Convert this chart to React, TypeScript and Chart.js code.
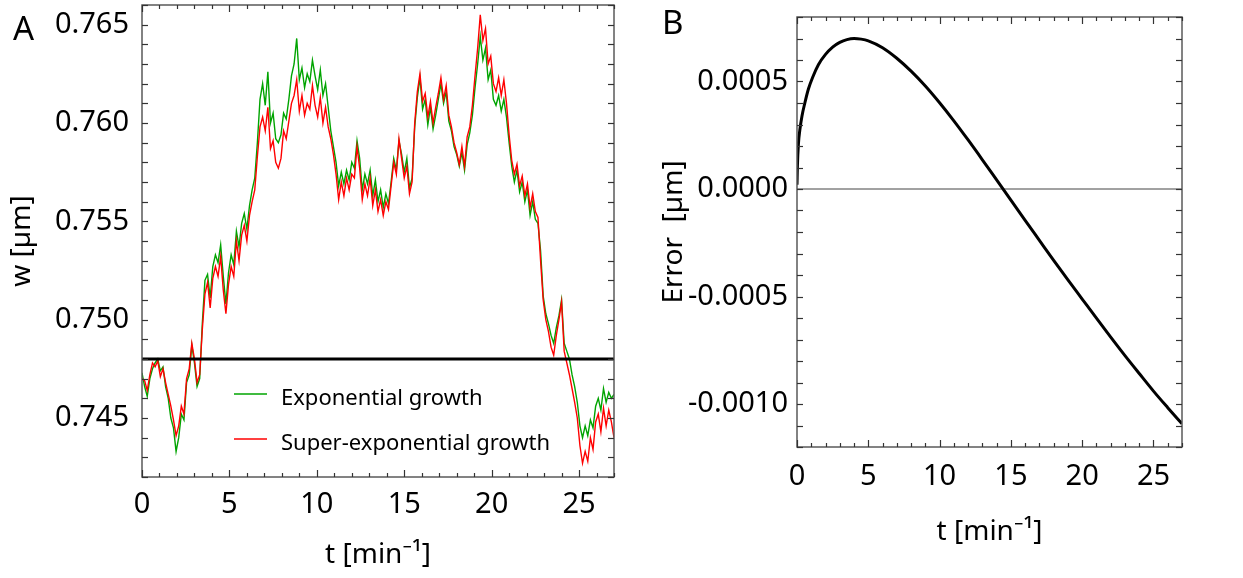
import React, { useEffect, useRef } from "react";
import { Chart, registerables } from "chart.js";

Chart.register(...registerables);

const FONT = "'Noto Sans', 'DejaVu Sans', sans-serif";

// ---------- Panel A data ----------
const TIME_A = [
  0, 0.15, 0.3, 0.45, 0.6, 0.75, 0.9, 1.05, 1.2, 1.35, 1.5, 1.65, 1.8, 1.95, 2.1, 2.25, 2.4, 2.55, 2.7, 2.85,
  3, 3.15, 3.3, 3.45, 3.6, 3.75, 3.9, 4.05, 4.2, 4.35, 4.5, 4.65, 4.8, 4.95, 5.1, 5.25, 5.4, 5.55, 5.7, 5.85,
  6, 6.15, 6.3, 6.45, 6.6, 6.75, 6.9, 7.05, 7.2, 7.35, 7.5, 7.65, 7.8, 7.95, 8.1, 8.25, 8.4, 8.55, 8.7, 8.85,
  9, 9.15, 9.3, 9.45, 9.6, 9.75, 9.9, 10.05, 10.2, 10.35, 10.5, 10.65, 10.8, 10.95, 11.1, 11.25, 11.4, 11.55, 11.7, 11.85,
  12, 12.15, 12.3, 12.45, 12.6, 12.75, 12.9, 13.05, 13.2, 13.35, 13.5, 13.65, 13.8, 13.95, 14.1, 14.25, 14.4, 14.55, 14.7, 14.85,
  15, 15.15, 15.3, 15.45, 15.6, 15.75, 15.9, 16.05, 16.2, 16.35, 16.5, 16.65, 16.8, 16.95, 17.1, 17.25, 17.4, 17.55, 17.7, 17.85,
  18, 18.15, 18.3, 18.45, 18.6, 18.75, 18.9, 19.05, 19.2, 19.35, 19.5, 19.65, 19.8, 19.95, 20.1, 20.25, 20.4, 20.55, 20.7, 20.85,
  21, 21.15, 21.3, 21.45, 21.6, 21.75, 21.9, 22.05, 22.2, 22.35, 22.5, 22.65, 22.8, 22.95, 23.1, 23.25, 23.4, 23.55, 23.7, 23.85,
  24, 24.15, 24.3, 24.45, 24.6, 24.75, 24.9, 25.05, 25.2, 25.35, 25.5, 25.65, 25.8, 25.95, 26.1, 26.25, 26.4, 26.55, 26.7, 26.85,
  27,
];

const EXPONENTIAL = [
  0.7473, 0.7466, 0.7461, 0.7470, 0.7475, 0.7478, 0.7480, 0.7474, 0.7476, 0.7466, 0.7460, 0.7450, 0.7445, 0.7433, 0.7440, 0.7452, 0.7449, 0.7468, 0.7472, 0.7487,
  0.7478, 0.7466, 0.7470, 0.7498, 0.7520, 0.7523, 0.7511, 0.7527, 0.7533, 0.7529, 0.7538, 0.7522, 0.7508, 0.7524, 0.7533, 0.7528, 0.7545, 0.7537, 0.7549, 0.7554,
  0.7546, 0.7558, 0.7566, 0.7572, 0.7590, 0.7612, 0.7620, 0.7609, 0.7626, 0.7600, 0.7605, 0.7592, 0.7590, 0.7594, 0.7605, 0.7602, 0.7612, 0.7624, 0.7630, 0.7643,
  0.7622, 0.7628, 0.7618, 0.7625, 0.7621, 0.7632, 0.7624, 0.7617, 0.7627, 0.7614, 0.7620, 0.7608, 0.7596, 0.7588, 0.7580, 0.7568, 0.7575, 0.7569, 0.7576, 0.7571,
  0.7580, 0.7577, 0.7591, 0.7582, 0.7566, 0.7574, 0.7569, 0.7576, 0.7563, 0.7571, 0.7560, 0.7566, 0.7557, 0.7564, 0.7559, 0.7570, 0.7582, 0.7576, 0.7591, 0.7584,
  0.7575, 0.7582, 0.7567, 0.7572, 0.7598, 0.7613, 0.7623, 0.7607, 0.7612, 0.7599, 0.7608, 0.7597, 0.7604, 0.7612, 0.7620, 0.7610, 0.7616, 0.7601, 0.7596, 0.7588,
  0.7584, 0.7578, 0.7585, 0.7576, 0.7589, 0.7595, 0.7604, 0.7618, 0.7630, 0.7644, 0.7632, 0.7638, 0.7622, 0.7627, 0.7612, 0.7609, 0.7614, 0.7606, 0.7612, 0.7603,
  0.7590, 0.7578, 0.7570, 0.7576, 0.7565, 0.7570, 0.7560, 0.7566, 0.7553, 0.7560, 0.7551, 0.7549, 0.7535, 0.7512, 0.7503, 0.7498, 0.7492, 0.7488, 0.7496, 0.7502,
  0.7510, 0.7488, 0.7484, 0.7480, 0.7472, 0.7466, 0.7458, 0.7446, 0.7440, 0.7446, 0.7441, 0.7449, 0.7445, 0.7456, 0.7460, 0.7454, 0.7465, 0.7458, 0.7463, 0.7460,
  0.7462,
];

const SUPER_EXPONENTIAL = [
  0.7470, 0.7469, 0.7464, 0.7472, 0.7478, 0.7476, 0.7479, 0.7471, 0.7475, 0.7468, 0.7462, 0.7456, 0.7449, 0.7441, 0.7446, 0.7456, 0.7452, 0.7470, 0.7475, 0.7488,
  0.7480, 0.7468, 0.7472, 0.7495, 0.7513, 0.7519, 0.7506, 0.7521, 0.7527, 0.7522, 0.7532, 0.7515, 0.7503, 0.7518, 0.7527, 0.7522, 0.7540, 0.7530, 0.7543, 0.7548,
  0.7540, 0.7553, 0.7560, 0.7566, 0.7583, 0.7598, 0.7603, 0.7596, 0.7608, 0.7587, 0.7591, 0.7580, 0.7577, 0.7582, 0.7596, 0.7592, 0.7601, 0.7610, 0.7614, 0.7622,
  0.7606, 0.7614, 0.7604, 0.7610, 0.7607, 0.7619, 0.7609, 0.7603, 0.7613, 0.7600, 0.7608, 0.7598, 0.7592, 0.7584, 0.7574, 0.7561, 0.7570, 0.7563, 0.7572, 0.7566,
  0.7574, 0.7572, 0.7588, 0.7577, 0.7561, 0.7569, 0.7563, 0.7572, 0.7558, 0.7566, 0.7555, 0.7561, 0.7553, 0.7560, 0.7556, 0.7568, 0.7580, 0.7574, 0.7592, 0.7582,
  0.7572, 0.7578, 0.7564, 0.7570, 0.7600, 0.7616, 0.7625, 0.7611, 0.7615, 0.7603, 0.7611, 0.7600, 0.7608, 0.7615, 0.7623, 0.7612, 0.7619, 0.7604, 0.7598, 0.7590,
  0.7585, 0.7579, 0.7588, 0.7578, 0.7593, 0.7598, 0.7609, 0.7624, 0.7638, 0.7655, 0.7642, 0.7648, 0.7630, 0.7634, 0.7620, 0.7616, 0.7623, 0.7614, 0.7622, 0.7610,
  0.7594, 0.7581, 0.7574, 0.7579, 0.7568, 0.7573, 0.7563, 0.7569, 0.7557, 0.7564, 0.7555, 0.7552, 0.7530, 0.7510, 0.7500, 0.7494, 0.7486, 0.7482, 0.7492, 0.7500,
  0.7509, 0.7484, 0.7478, 0.7472, 0.7465, 0.7458, 0.7450, 0.7436, 0.7427, 0.7433, 0.7428, 0.7440, 0.7434, 0.7448, 0.7452, 0.7443, 0.7455, 0.7446, 0.7454, 0.7448,
  0.7440,
];

const REFERENCE_LEVEL = 0.748;
const SERIES_NAMES = ["Exponential growth", "Super-exponential growth"];

const X_TICKS = [0, 5, 10, 15, 20, 25];
const Y_TICKS_A = [0.745, 0.75, 0.755, 0.76, 0.765];

// ---------- Panel B data ----------
const ERR_T = [
  0, 0.03, 0.1, 0.2, 0.35, 0.55, 0.8, 1.1, 1.5, 2.0, 2.5, 3.0, 3.5, 4.0, 4.5, 5, 6, 7, 8, 9,
  10, 11, 12, 13, 14, 15, 16, 17, 18, 19, 20, 21, 22, 23, 24, 25, 26, 27,
];
const ERR_V = [
  0.00002, 0.00011, 0.00021, 0.000275, 0.00034, 0.0004, 0.000465, 0.00052, 0.000578, 0.000626, 0.00066, 0.000682, 0.000695, 0.0007, 0.000697, 0.000689, 0.000657, 0.000608, 0.000548, 0.000479,
  0.000401, 0.000317, 0.000228, 0.000136, 0.000042, -0.000052, -0.000146, -0.000239, -0.000332, -0.000423, -0.000512, -0.000601, -0.000689, -0.000775, -0.000858, -0.00094, -0.001017, -0.001092,
];
const Y_TICKS_B = [0.0005, 0, -0.0005, -0.001];

// ---------- plugins ----------
const framePlugin = {
  id: "frame",
  afterDraw(chart: any) {
    const o = chart.options.plugins.frame;
    if (!o) return;
    const { ctx, chartArea: a } = chart;
    const xs = chart.scales.x;
    const ys = chart.scales.y;
    ctx.save();
    ctx.strokeStyle = "#5a5a5a";
    ctx.lineWidth = 1.5;
    ctx.strokeRect(a.left, a.top, a.right - a.left, a.bottom - a.top);
    ctx.strokeStyle = "#333";
    ctx.lineWidth = 1.2;
    const line = (x1: number, y1: number, x2: number, y2: number) => {
      ctx.beginPath();
      ctx.moveTo(x1, y1);
      ctx.lineTo(x2, y2);
      ctx.stroke();
    };
    const nx = Math.round((o.xMax - o.xMin) / o.xMinor);
    for (let i = 0; i <= nx; i++) {
      const v = o.xMin + i * o.xMinor;
      const px = Math.round(xs.getPixelForValue(v)) + 0.5;
      const r = v / o.xMajor;
      const major = Math.abs(r - Math.round(r)) < 1e-6;
      const len = major ? 7 : 4;
      line(px, a.bottom, px, a.bottom - len);
      line(px, a.top, px, a.top + len);
    }
    const ny = Math.round((o.yMax - o.yMin) / o.yMinor);
    for (let i = 0; i <= ny; i++) {
      const v = o.yMin + i * o.yMinor;
      const py = Math.round(ys.getPixelForValue(v)) + 0.5;
      const len = 6;
      line(a.left, py, a.left + len, py);
      line(a.right, py, a.right - len, py);
    }
    if (o.letter) {
      ctx.fillStyle = "#000";
      ctx.font = `33px ${FONT}`;
      ctx.textBaseline = "alphabetic";
      ctx.textAlign = "left";
      ctx.fillText(o.letter.text, o.letter.x, o.letter.y);
    }
    if (o.legend) {
      const L = o.legend;
      ctx.font = `22px ${FONT}`;
      ctx.fillStyle = "#000";
      ctx.textAlign = "left";
      ctx.textBaseline = "alphabetic";
      L.items.forEach((it: any, i: number) => {
        const yLine = a.top + L.top + i * L.gap;
        ctx.strokeStyle = it.color;
        ctx.lineWidth = 1.3;
        line(a.left + L.lineX0, yLine, a.left + L.lineX1, yLine);
        ctx.fillText(it.text, a.left + L.textX, yLine + 11);
      });
    }
    ctx.restore();
  },
};

function fixFit(size: { w?: number; h?: number }) {
  return (s: any) => {
    if (size.w !== undefined) s.width = size.w;
    if (size.h !== undefined) s.height = size.h;
    s.paddingLeft = 0;
    s.paddingRight = 0;
    s.paddingTop = 0;
    s.paddingBottom = 0;
  };
}

const tickFont = { family: FONT, size: 29 };
const titleFont = { family: FONT, size: 28 };

export default function App() {
  const refA = useRef<HTMLCanvasElement | null>(null);
  const refB = useRef<HTMLCanvasElement | null>(null);

  useEffect(() => {
    const green = TIME_A.map((t, i) => ({ x: t, y: EXPONENTIAL[i] }));
    const red = TIME_A.map((t, i) => ({ x: t, y: SUPER_EXPONENTIAL[i] }));

    const chartA = new Chart(refA.current as HTMLCanvasElement, {
      type: "line",
      data: {
        datasets: [
          {
            label: "level",
            data: [
              { x: 0, y: REFERENCE_LEVEL },
              { x: 27, y: REFERENCE_LEVEL },
            ],
            borderColor: "#000",
            borderWidth: 3,
            pointRadius: 0,
            order: 0,
          },
          {
            label: SERIES_NAMES[1],
            data: red,
            borderColor: "#ff0000",
            borderWidth: 1.4,
            pointRadius: 0,
            tension: 0,
            order: 1,
          },
          {
            label: SERIES_NAMES[0],
            data: green,
            borderColor: "#00a400",
            borderWidth: 1.4,
            pointRadius: 0,
            tension: 0,
            order: 2,
          },
        ],
      },
      plugins: [framePlugin],
      options: {
        responsive: false,
        animation: false,
        devicePixelRatio: 1,
        layout: { padding: { left: 0, top: 5, right: 26, bottom: 0 } },
        plugins: {
          legend: { display: false },
          tooltip: { enabled: false },
          frame: {
            xMin: 0, xMax: 27, xMinor: 1, xMajor: 5,
            yMin: 0.742, yMax: 0.766, yMinor: 0.001,
            letter: { text: "A", x: 13, y: 40 },
            legend: {
              top: 389, gap: 45, lineX0: 92, lineX1: 125, textX: 139,
              items: [
                { text: SERIES_NAMES[0], color: "#00a400" },
                { text: SERIES_NAMES[1], color: "#ff0000" },
              ],
            },
          },
        } as any,
        scales: {
          x: {
            type: "linear",
            min: 0,
            max: 27,
            afterBuildTicks: (s: any) => {
              s.ticks = X_TICKS.map((v) => ({ value: v }));
            },
            afterFit: fixFit({ h: 101 }),
            grid: { display: false },
            border: { display: false },
            ticks: { font: tickFont, color: "#000", padding: 2, maxRotation: 0, autoSkip: false, callback: (v: any) => String(v) },
            title: { display: true, text: "t [min\u207B\u00B9]", font: titleFont, color: "#000", padding: { top: 0, bottom: 6 } },
          },
          y: {
            type: "linear",
            min: 0.742,
            max: 0.766,
            afterBuildTicks: (s: any) => {
              s.ticks = Y_TICKS_A.map((v) => ({ value: v }));
            },
            afterFit: fixFit({ w: 142 }),
            grid: { display: false },
            border: { display: false },
            ticks: { font: tickFont, color: "#000", padding: 5, autoSkip: false, callback: (v: any) => Number(v).toFixed(3) },
            title: { display: true, text: "w [\u00B5m]", font: titleFont, color: "#000", padding: { top: 5, bottom: 0 } },
          },
        },
      } as any,
    });

    const err = ERR_T.map((t, i) => ({ x: t, y: ERR_V[i] }));
    const chartB = new Chart(refB.current as HTMLCanvasElement, {
      type: "line",
      data: {
        datasets: [
          {
            label: "Error",
            data: err,
            borderColor: "#000",
            borderWidth: 3,
            pointRadius: 0,
            cubicInterpolationMode: "monotone",
            order: 0,
          },
          {
            label: "zero",
            data: [
              { x: 0, y: 0 },
              { x: 27, y: 0 },
            ],
            borderColor: "#444",
            borderWidth: 1,
            pointRadius: 0,
            order: 1,
          },
        ],
      },
      plugins: [framePlugin],
      options: {
        responsive: false,
        animation: false,
        devicePixelRatio: 1,
        layout: { padding: { left: 0, top: 17, right: 61, bottom: 0 } },
        plugins: {
          legend: { display: false },
          tooltip: { enabled: false },
          frame: {
            xMin: 0, xMax: 27, xMinor: 1, xMajor: 5,
            yMin: -0.0012, yMax: 0.0008, yMinor: 0.0001,
            letter: { text: "B", x: 22, y: 34 },
          },
        } as any,
        scales: {
          x: {
            type: "linear",
            min: 0,
            max: 27,
            afterBuildTicks: (s: any) => {
              s.ticks = X_TICKS.map((v) => ({ value: v }));
            },
            afterFit: fixFit({ h: 131 }),
            grid: { display: false },
            border: { display: false },
            ticks: { font: tickFont, color: "#000", padding: 4, maxRotation: 0, autoSkip: false, callback: (v: any) => String(v) },
            title: { display: true, text: "t [min\u207B\u00B9]", font: titleFont, color: "#000", padding: { top: 0, bottom: 29 } },
          },
          y: {
            type: "linear",
            min: -0.0012,
            max: 0.0008,
            afterBuildTicks: (s: any) => {
              s.ticks = Y_TICKS_B.map((v) => ({ value: v }));
            },
            afterFit: fixFit({ w: 157 }),
            grid: { display: false },
            border: { display: false },
            ticks: { font: tickFont, color: "#000", padding: 1, autoSkip: false, callback: (v: any) => Number(v).toFixed(4) },
            title: { display: true, text: "Error  [\u00B5m]", font: titleFont, color: "#000", padding: { top: 17, bottom: 0 } },
          },
        },
      } as any,
    });

    return () => {
      chartA.destroy();
      chartB.destroy();
    };
  }, []);

  return (
    <div style={{ position: "fixed", left: 0, top: 0, width: 1243, height: 578, background: "#fff" }}>
      <canvas ref={refA} width={640} height={578} style={{ position: "absolute", left: 0, top: 0, width: 640, height: 578 }} />
      <canvas ref={refB} width={603} height={578} style={{ position: "absolute", left: 640, top: 0, width: 603, height: 578 }} />
    </div>
  );
}
